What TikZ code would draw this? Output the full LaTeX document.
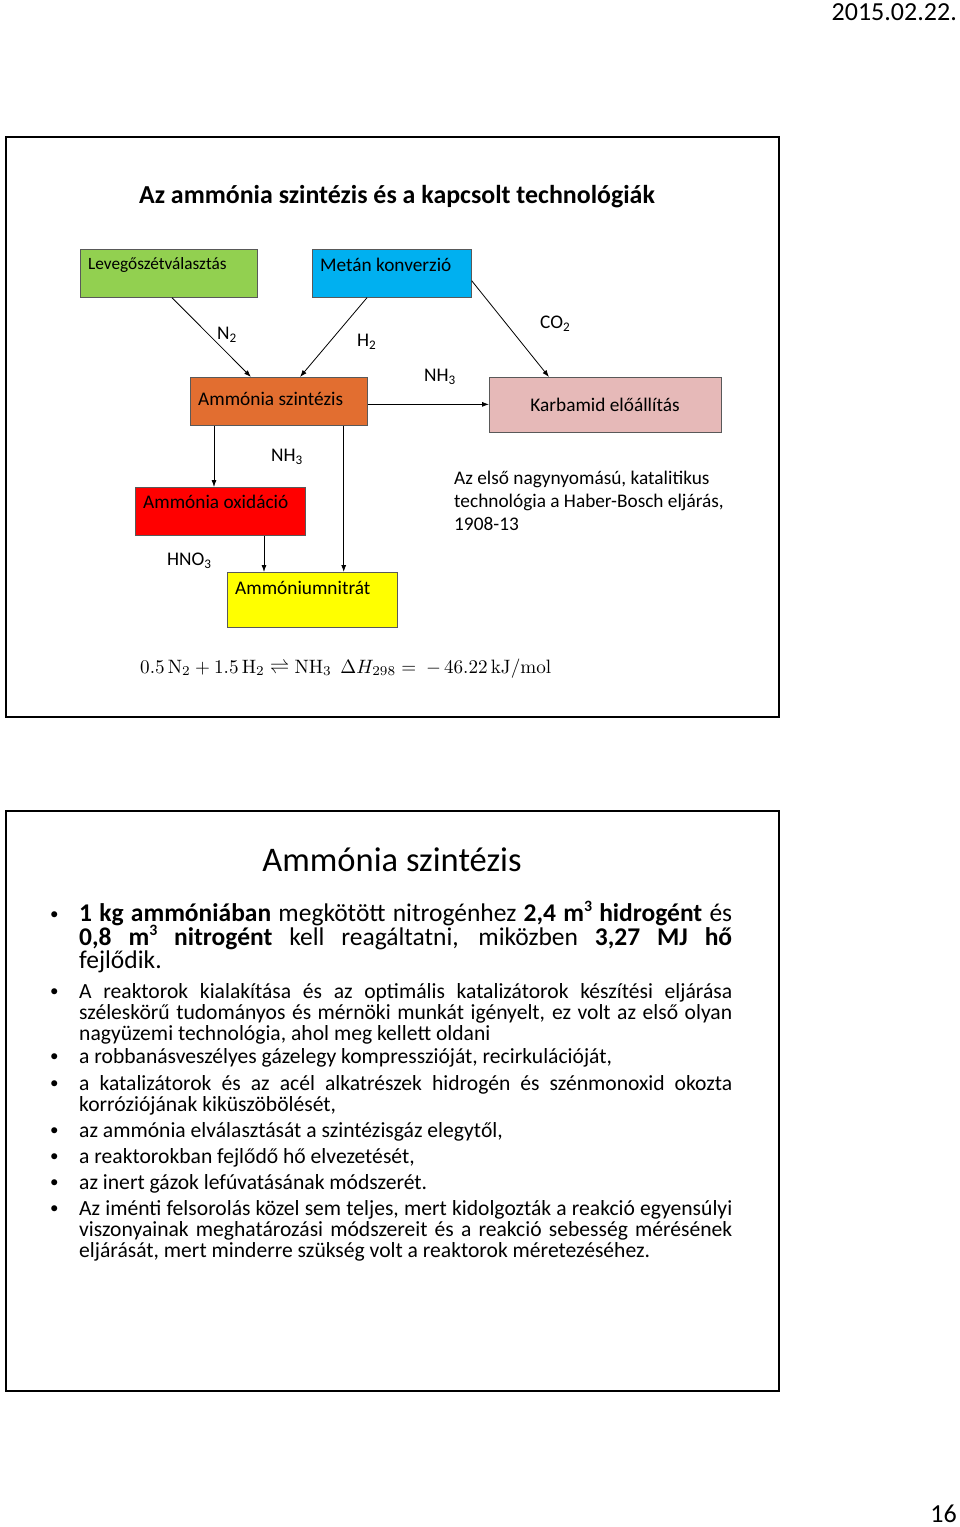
\documentclass[tikz,border=0pt]{standalone}
\usepackage{amsmath}
\usepackage[no-math]{fontspec}
\setmainfont{Carlito}
\usepackage{graphicx}
\usetikzlibrary{arrows.meta,calc}
\definecolor{cgreen}{HTML}{92D050}
\definecolor{cblue}{HTML}{00B0F0}
\definecolor{corange}{RGB}{226,110,48}
\definecolor{cpink}{HTML}{E6B9B8}
\definecolor{cred}{HTML}{FF0000}
\definecolor{cyellow}{HTML}{FFFF00}
\newcommand\chs[1]{\raisebox{-0.35ex}{\scalebox{0.68}{#1}}}
\newcommand\sups[1]{\raisebox{0.75ex}{\scalebox{0.62}{#1}}}
\newcommand\fs[1]{\fontsize{#1}{#1}\selectfont}
\tikzset{
  frame/.style={draw=black, line width=2pt, fill=white},
  procbox/.style={draw=black!65, line width=0.7pt, inner sep=0pt},
  conn/.style={-{Latex[length=7pt,width=5pt]}, line width=0.8pt},
  lbl/.style={anchor=base west, inner sep=0pt, font=\fs{19.3}},
  bline/.style={anchor=base west, inner sep=0pt},
  bul/.style={anchor=base west, inner sep=0pt, font=\fs{17}},
}
\begin{document}
\begin{tikzpicture}[x=1pt,y=-1pt]
\useasboundingbox (0,0) rectangle (960,1527);
\fill[white] (0,0) rectangle (960,1527);
% header / footer
\node[anchor=base east, inner sep=0pt, font=\fs{26}] (date) at (957,20) {2015.02.22.};
\node[anchor=base east, inner sep=0pt, font=\fs{26}] (page) at (957,1522) {16};
% frames
\node[frame, minimum width=773pt, minimum height=580pt, anchor=north west] (slide1) at (5,136) {};
\node[frame, minimum width=773pt, minimum height=580pt, anchor=north west] (slide2) at (5,810) {};
% title
\node[anchor=base, inner sep=0pt, font=\fs{25.9}\bfseries] (title1) at (397,203) {Az ammónia szintézis és a kapcsolt technológiák};
% boxes
\node[procbox, fill=cgreen, minimum width=177pt, minimum height=48pt, anchor=north west] (lev) at (80,249) {};
\node[procbox, fill=cblue, minimum width=159pt, minimum height=48pt, anchor=north west] (metan) at (312,249) {};
\node[procbox, fill=corange, minimum width=177pt, minimum height=48pt, anchor=north west] (szint) at (190,377) {};
\node[procbox, fill=cpink, minimum width=232pt, minimum height=55pt, anchor=north west] (karb) at (489,377) {};
\node[procbox, fill=cred, minimum width=170pt, minimum height=48pt, anchor=north west] (oxid) at (135,487) {};
\node[procbox, fill=cyellow, minimum width=170pt, minimum height=55pt, anchor=north west] (nitr) at (227,572) {};
% box texts
\node[lbl, font=\fs{17.25}] (levt) at (88,269) {Levegőszétválasztás};
\node[lbl] (metant) at (320,271) {Metán konverzió};
\node[lbl] (szintt) at (198,405) {Ammónia szintézis};
\node[anchor=base, inner sep=0pt, font=\fs{19.3}] (karbt) at (605,411) {Karbamid előállítás};
\node[lbl] (oxidt) at (143,508) {Ammónia oxidáció};
\node[lbl] (nitrt) at (235,594) {Ammóniumnitrát};
% connectors
\draw[conn] ([xshift=92pt]lev.south west) -- ([xshift=61pt]szint.north west);
\draw[conn] ([xshift=55pt]metan.south west) -- ([xshift=110pt]szint.north west);
\draw[conn] ([yshift=17pt]metan.south east) -- ([xshift=60pt]karb.north west);
\draw[conn] ([yshift=-3pt]szint.east) -- ([yshift=-3pt]szint.east -| karb.west);
\draw[conn] ([xshift=24pt]szint.south west) -- ([xshift=24pt]szint.south west |- oxid.north);
\draw[conn] ([xshift=-24pt]szint.south east) -- ([xshift=-24pt]szint.south east |- nitr.north);
\draw[conn] ([xshift=129pt]oxid.south west) -- ([xshift=129pt]oxid.south west |- nitr.north);
% labels
\node[lbl] (ln2) at (217,339) {N\chs{2}};
\node[lbl] (lh2) at (357,346) {H\chs{2}};
\node[lbl] (lco2) at (540,328) {CO\chs{2}};
\node[lbl] (lnh3a) at (424,381) {NH\chs{3}};
\node[lbl] (lnh3b) at (271,461) {NH\chs{3}};
\node[lbl] (lhno3) at (167,565) {HNO\chs{3}};
% note
\node[lbl] (note1) at (454,484) {Az első nagynyomású, katalitikus};
\node[lbl] (note2) at (454,507) {technológia a Haber-Bosch eljárás,};
\node[lbl] (note3) at (454,530) {1908-13};
% equation
\node[anchor=base west, inner sep=0pt, text=black] (eq) at (140,673)
  {\resizebox{411pt}{14.5pt}{$\mathrm{0.5\,N_2+1.5\,H_2\rightleftharpoons NH_3}\ \ \Delta H_{298}=\ -\,\mathrm{46.22\,kJ/mol}$}};
% slide 2
\node[anchor=base, inner sep=0pt, font=\fs{34.5}] (title2) at (392,871) {Ammónia szintézis};
\begin{scope}[every node/.append style={font=\fs{25.5}}]
\node[bul] (b1) at (50,919) {\textbullet};
\node[bline] (l1) at (79,921) {\makebox[653pt][s]{\textbf{1 kg ammóniában} megkötött nitrogénhez \textbf{2,4 m\sups{3} hidrogént} és}};
\node[bline] (l2) at (79,945) {\makebox[653pt][s]{\textbf{0,8 m\sups{3} nitrogént} kell reagáltatni, miközben \textbf{3,27 MJ hő}}};
\node[bline] (l3) at (79,968) {fejlődik.};
\end{scope}
\begin{scope}[every node/.append style={font=\fs{21.6}}]
\node[bul] (b2) at (50,996) {\textbullet};
\node[bline] (l4) at (79,998) {\makebox[653pt][s]{A reaktorok kialakítása és az optimális katalizátorok készítési eljárása}};
\node[bline] (l5) at (79,1019) {\makebox[653pt][s]{széleskörű tudományos és mérnöki munkát igényelt, ez volt az első olyan}};
\node[bline] (l6) at (79,1040) {nagyüzemi technológia, ahol meg kellett oldani};
\node[bul] (b3) at (50,1061) {\textbullet};
\node[bline] (l7) at (79,1063) {a robbanásveszélyes gázelegy kompresszióját, recirkulációját,};
\node[bul] (b4) at (50,1088) {\textbullet};
\node[bline] (l8) at (79,1090) {\makebox[653pt][s]{a katalizátorok és az acél alkatrészek hidrogén és szénmonoxid okozta}};
\node[bline] (l9) at (79,1111) {korróziójának kiküszöbölését,};
\node[bul] (b5) at (50,1135) {\textbullet};
\node[bline] (l10) at (79,1137) {az ammónia elválasztását a szintézisgáz elegytől,};
\node[bul] (b6) at (50,1161) {\textbullet};
\node[bline] (l11) at (79,1163) {a reaktorokban fejlődő hő elvezetését,};
\node[bul] (b7) at (50,1187) {\textbullet};
\node[bline] (l12) at (79,1189) {az inert gázok lefúvatásának módszerét.};
\node[bul] (b8) at (50,1213) {\textbullet};
\node[bline] (l13) at (79,1215) {\makebox[653pt][s]{Az iménti felsorolás közel sem teljes, mert kidolgozták a reakció egyensúlyi}};
\node[bline] (l14) at (79,1236) {\makebox[653pt][s]{viszonyainak meghatározási módszereit és a reakció sebesség mérésének}};
\node[bline] (l15) at (79,1257) {eljárását, mert minderre szükség volt a reaktorok méretezéséhez.};
\end{scope}
\end{tikzpicture}
\end{document}
